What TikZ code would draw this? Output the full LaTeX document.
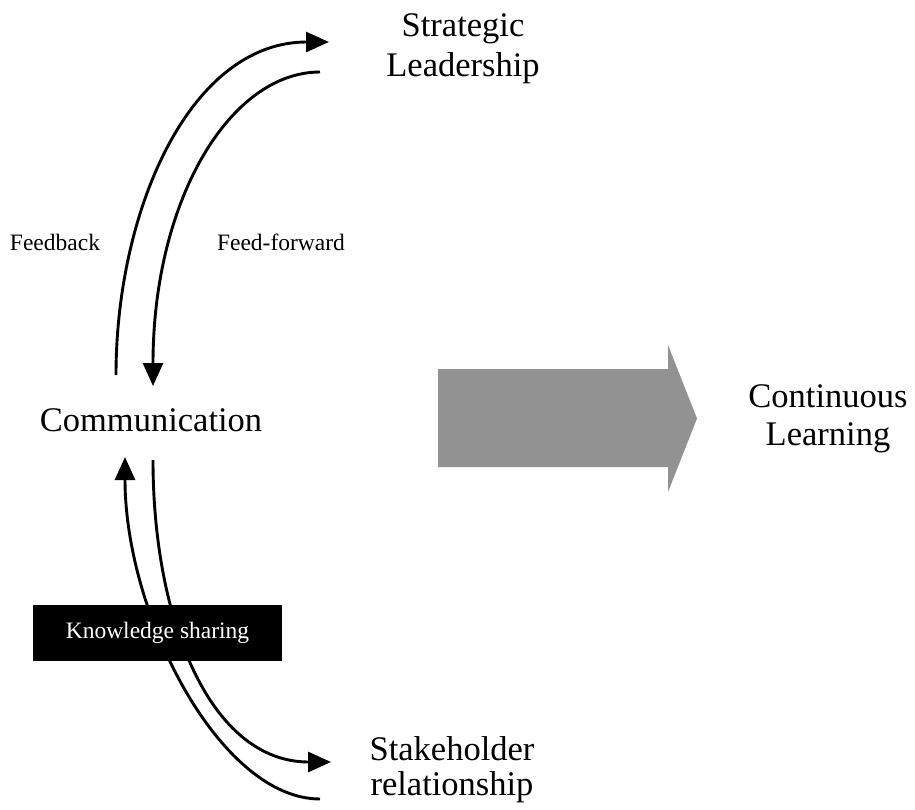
\documentclass[tikz,border=0pt]{standalone}
\usepackage{fontspec}
\setmainfont{Liberation Serif}
\usetikzlibrary{arrows.meta}
\definecolor{arrowgray}{RGB}{146,146,146}
\begin{document}
\begin{tikzpicture}[x=1pt,y=-1pt,
  bigtext/.style={font=\fontsize{34.5}{40}\selectfont, inner sep=0pt, anchor=base, align=center},
  smalltext/.style={font=\fontsize{23.5}{28}\selectfont, inner sep=0pt, anchor=base},
  flow/.style={line width=2.9pt, -{Triangle[length=23pt,width=20pt]}},
  blackbox/.style={fill=black, text=white, font=\fontsize{23.5}{28}\selectfont,
    minimum width=249pt, minimum height=56pt, inner sep=0pt}]
\useasboundingbox (0,0) rectangle (915,810);

% text nodes
\node[bigtext] (strat) at (463,37) {Strategic};
\node[bigtext] (lead) at (463,77) {Leadership};
\node[bigtext] (comm) at (151,431) {Communication};
\node[bigtext] (cont) at (828,407) {Continuous};
\node[bigtext] (learn) at (828,445) {Learning};
\node[bigtext] (stake) at (452,760) {Stakeholder};
\node[bigtext] (rel) at (452,795) {relationship};
\node[smalltext] (fb) at (55,251) {Feedback};
\node[smalltext] (ff) at (281,251) {Feed-forward};

% connector ends
\coordinate (fbS) at (116,375);
\coordinate (fbE) at (329,42);
\coordinate (ffS) at (320,72);
\coordinate (ffE) at (153,386);
\coordinate (upS) at (320,799);
\coordinate (upE) at (125,457);
\coordinate (dnS) at (153,460);
\coordinate (dnE) at (331,762);

% upper loop
\draw[flow] (fbS) .. controls (116,210) and (190,42) .. (fbE);
\draw[flow] (ffS) .. controls (230,72) and (153,200) .. (ffE);

% lower loop
\draw[flow] (upS) .. controls (220,799) and (125,615) .. (upE);
\draw[flow] (dnS) .. controls (153,620) and (210,762) .. (dnE);

% knowledge sharing box
\node[blackbox] (ks) at (157.5,633) {Knowledge sharing};

% big grey arrow
\fill[arrowgray] (438,369) -- (668,369) -- (668,345) -- (697,418.5) -- (668,492) -- (668,467) -- (438,467) -- cycle;
\end{tikzpicture}
\end{document}
